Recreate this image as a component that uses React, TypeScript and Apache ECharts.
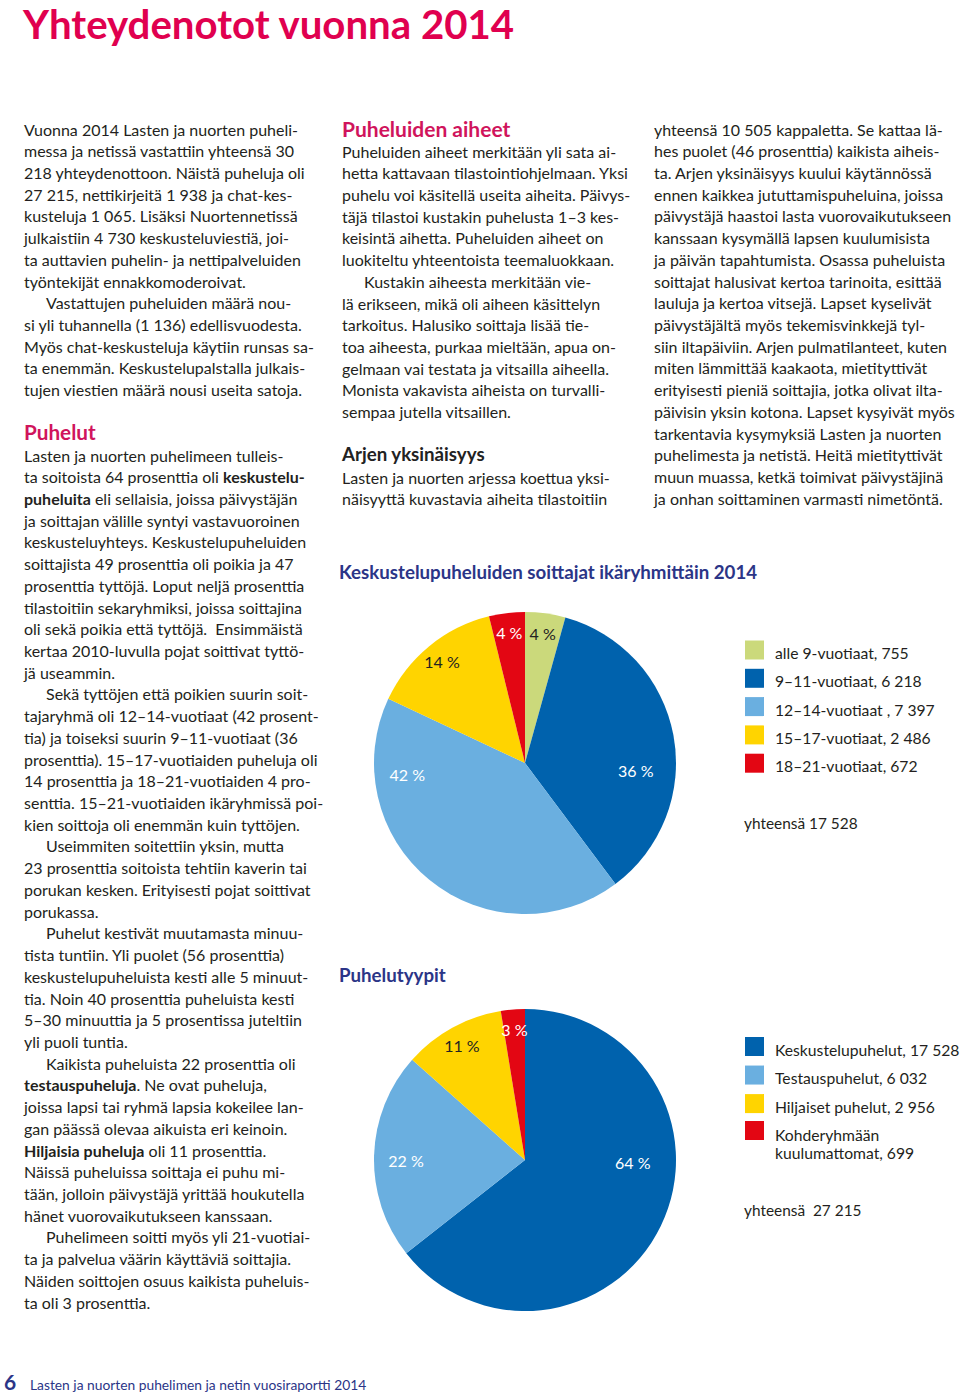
import React, { useEffect, useRef } from 'react';
import * as echarts from 'echarts';

// ---------- chart data ----------
const ageCategories = ['alle 9-vuotiaat', '9–11-vuotiaat', '12–14-vuotiaat ', '15–17-vuotiaat', '18–21-vuotiaat'];
const ageValues = [755, 6218, 7397, 2486, 672];
const ageTotal = 17528;

const typeCategories = ['Keskustelupuhelut', 'Testauspuhelut', 'Hiljaiset puhelut', 'Kohderyhmään\nkuulumattomat'];
const typeValues = [17528, 6032, 2956, 699];
const typeTotal = 27215;

// ---------- styling ----------
const ageColors = ['#cbd97b', '#0062ad', '#6aafe0', '#ffd400', '#e30613'];
const ageLabelColors = ['#222', '#fff', '#fff', '#222', '#fff'];
const ageLabelShift = [[0, 0], [-18, 32], [-35, -90], [0, 0], [0, 0]];
const typeColors = ['#0062ad', '#6aafe0', '#ffd400', '#e30613'];
const typeLabelColors = ['#fff', '#fff', '#222', '#fff'];
const typeLabelShift = [[-10, -55], [12, 5], [0, 0], [0, 0]];

const FONT = "Lato, 'Noto Sans', sans-serif";
const BODY = '#231f20';
const PINK = '#e0004f';
const HEAD = '#d0145c';
const NAVY = '#2b3587';
const BODY_SIZE = 16;
const LH = 21.72;

// ---------- page text ----------
const introLines = [
  'Vuonna 2014 Lasten ja nuorten puheli-',
  'messa ja netissä vastattiin yhteensä 30',
  '218 yhteydenottoon. Näistä puheluja oli',
  '27 215, nettikirjeitä 1 938 ja chat-kes-',
  'kusteluja 1 065. Lisäksi Nuortennetissä',
  'julkaistiin 4 730 keskusteluviestiä, joi-',
  'ta auttavien puhelin- ja nettipalveluiden',
  'työntekijät ennakkomoderoivat.',
  '\tVastattujen puheluiden määrä nou-',
  'si yli tuhannella (1 136) edellisvuodesta.',
  'Myös chat-keskusteluja käytiin runsas sa-',
  'ta enemmän. Keskustelupalstalla julkais-',
  'tujen viestien määrä nousi useita satoja.',
];
const puhelutLines = [
  'Lasten ja nuorten puhelimeen tulleis-',
  'ta soitoista 64 prosenttia oli {b|keskustelu-}',
  '{b|puheluita} eli sellaisia, joissa päivystäjän',
  'ja soittajan välille syntyi vastavuoroinen',
  'keskusteluyhteys. Keskustelupuheluiden',
  'soittajista 49 prosenttia oli poikia ja 47',
  'prosenttia tyttöjä. Loput neljä prosenttia',
  'tilastoitiin sekaryhmiksi, joissa soittajina',
  'oli sekä poikia että tyttöjä.  Ensimmäistä',
  'kertaa 2010-luvulla pojat soittivat tyttö-',
  'jä useammin.',
  '\tSekä tyttöjen että poikien suurin soit-',
  'tajaryhmä oli 12–14-vuotiaat (42 prosent-',
  'tia) ja toiseksi suurin 9–11-vuotiaat (36',
  'prosenttia). 15–17-vuotiaiden puheluja oli',
  '14 prosenttia ja 18–21-vuotiaiden 4 pro-',
  'senttia. 15–21-vuotiaiden ikäryhmissä poi-',
  'kien soittoja oli enemmän kuin tyttöjen.',
  '\tUseimmiten soitettiin yksin, mutta',
  '23 prosenttia soitoista tehtiin kaverin tai',
  'porukan kesken. Erityisesti pojat soittivat',
  'porukassa.',
  '\tPuhelut kestivät muutamasta minuu-',
  'tista tuntiin. Yli puolet (56 prosenttia)',
  'keskustelupuheluista kesti alle 5 minuut-',
  'tia. Noin 40 prosenttia puheluista kesti',
  '5–30 minuuttia ja 5 prosentissa juteltiin',
  'yli puoli tuntia.',
  '\tKaikista puheluista 22 prosenttia oli',
  '{b|testauspuheluja}. Ne ovat puheluja,',
  'joissa lapsi tai ryhmä lapsia kokeilee lan-',
  'gan päässä olevaa aikuista eri keinoin.',
  '{b|Hiljaisia puheluja} oli 11 prosenttia.',
  'Näissä puheluissa soittaja ei puhu mi-',
  'tään, jolloin päivystäjä yrittää houkutella',
  'hänet vuorovaikutukseen kanssaan.',
  '\tPuhelimeen soitti myös yli 21-vuotiai-',
  'ta ja palvelua väärin käyttäviä soittajia.',
  'Näiden soittojen osuus kaikista puheluis-',
  'ta oli 3 prosenttia.',
];
const aiheetLines = [
  'Puheluiden aiheet merkitään yli sata ai-',
  'hetta kattavaan tilastointiohjelmaan. Yksi',
  'puhelu voi käsitellä useita aiheita. Päivys-',
  'täjä tilastoi kustakin puhelusta 1–3 kes-',
  'keisintä aihetta. Puheluiden aiheet on',
  'luokiteltu yhteentoista teemaluokkaan.',
  '\tKustakin aiheesta merkitään vie-',
  'lä erikseen, mikä oli aiheen käsittelyn',
  'tarkoitus. Halusiko soittaja lisää tie-',
  'toa aiheesta, purkaa mieltään, apua on-',
  'gelmaan vai testata ja vitsailla aiheella.',
  'Monista vakavista aiheista on turvalli-',
  'sempaa jutella vitsaillen.',
];
const arkiLines = [
  'Lasten ja nuorten arjessa koettua yksi-',
  'näisyyttä kuvastavia aiheita tilastoitiin',
];
const rightLines = [
  'yhteensä 10 505 kappaletta. Se kattaa lä-',
  'hes puolet (46 prosenttia) kaikista aiheis-',
  'ta. Arjen yksinäisyys kuului käytännössä',
  'ennen kaikkea jututtamispuheluina, joissa',
  'päivystäjä haastoi lasta vuorovaikutukseen',
  'kanssaan kysymällä lapsen kuulumisista',
  'ja päivän tapahtumista. Osassa puheluista',
  'soittajat halusivat kertoa tarinoita, esittää',
  'lauluja ja kertoa vitsejä. Lapset kyselivät',
  'päivystäjältä myös tekemisvinkkejä tyl-',
  'siin iltapäiviin. Arjen pulmatilanteet, kuten',
  'miten lämmittää kaakaota, mietityttivät',
  'erityisesti pieniä soittajia, jotka olivat ilta-',
  'päivisin yksin kotona. Lapset kysyivät myös',
  'tarkentavia kysymyksiä Lasten ja nuorten',
  'puhelimesta ja netistä. Heitä mietityttivät',
  'muun muassa, ketkä toimivat päivystäjinä',
  'ja onhan soittaminen varmasti nimetöntä.',
];

const fmt = (v: number) => String(v).replace(/\B(?=(\d{3})+(?!\d))/g, ' ');

function textLines(lines: string[], x: number, y0: number): any[] {
  return lines.map((raw, i) => {
    const indent = raw.startsWith('\t');
    const text = indent ? raw.slice(1) : raw;
    return {
      type: 'text',
      silent: true,
      x: x + (indent ? 22 : 0),
      y: y0 + i * LH,
      style: {
        text,
        fill: BODY,
        fontSize: BODY_SIZE,
        fontFamily: FONT,
        verticalAlign: 'middle',
        rich: {
          b: { fontWeight: 'bold', fontSize: BODY_SIZE, fontFamily: FONT, fill: BODY },
        },
      },
    };
  });
}

function label(text: string, x: number, y: number, size: number, color: string, weight = 'normal'): any {
  return {
    type: 'text',
    silent: true,
    x,
    y,
    style: {
      text,
      fill: color,
      fontSize: size,
      fontFamily: FONT,
      fontWeight: weight,
      lineHeight: Math.round(size * 1.05),
      verticalAlign: 'middle',
    },
  };
}

export default function App() {
  const ref = useRef<HTMLDivElement>(null);

  useEffect(() => {
    if (!ref.current) return;
    const chart = echarts.init(ref.current, undefined, { renderer: 'svg' });

    const pieBase = (center: number[], names: string[], values: number[], colors: string[]) => ({
      type: 'pie',
      center,
      radius: 151,
      startAngle: 90,
      clockwise: true,
      silent: true,
      label: { show: false },
      labelLine: { show: false },
      emphasis: { disabled: true },
      data: names.map((n, i) => ({ name: n, value: values[i], itemStyle: { color: colors[i] } })),
    });

    const pieLabels = (center: number[], values: number[], colors: string[], shifts: number[][]) => ({
      type: 'pie',
      center,
      radius: 256,
      startAngle: 90,
      clockwise: true,
      silent: true,
      percentPrecision: 0,
      itemStyle: { color: 'rgba(0,0,0,0)' },
      labelLine: { show: false },
      emphasis: { disabled: true },
      labelLayout: (p: any) => ({ dx: shifts[p.dataIndex][0], dy: shifts[p.dataIndex][1] }),
      data: values.map((v, i) => ({
        name: '',
        value: v,
        label: {
          show: true,
          position: 'inside',
          formatter: '{d} %',
          color: colors[i],
          fontSize: 16,
          fontFamily: FONT,
        },
      })),
    });

    // padding-top pushes the legend text a little below the icon centre, as in the original
    const legendBase = (
      names: string[],
      allNames: string[],
      values: number[],
      top: number,
      gap: number,
      padTop: number
    ) => ({
      orient: 'vertical',
      left: 745,
      top,
      padding: 0,
      itemWidth: 19,
      itemHeight: 19,
      itemGap: gap,
      icon: 'rect',
      selectedMode: false,
      formatter: (name: string) => {
        const full = `${name}, ${fmt(values[allNames.indexOf(name)])}`;
        return full
          .split('\n')
          .map((l) => `{a|${l}}`)
          .join('\n');
      },
      textStyle: {
        fontSize: 15.7,
        fontFamily: FONT,
        color: BODY,
        padding: [padTop, 0, 0, 6],
        rich: {
          a: { lineHeight: 18, fontSize: 15.7, fontFamily: FONT, color: BODY },
        },
      },
      data: names,
    });

    const graphics: any[] = [
      label('Yhteydenotot vuonna 2014', 23, 23, 40.2, PINK, 'bold'),
      ...textLines(introLines, 24, 129),
      label('Puhelut', 24, 432, 20.7, HEAD, 'bold'),
      ...textLines(puhelutLines, 24, 455),
      label('Puheluiden aiheet', 342, 128, 21, HEAD, 'bold'),
      ...textLines(aiheetLines, 342, 151),
      label('Arjen yksinäisyys', 342, 454, 18.7, '#222', 'bold'),
      ...textLines(arkiLines, 342, 477),
      ...textLines(rightLines, 654, 129),
      label('Keskustelupuheluiden soittajat ikäryhmittäin 2014', 339, 572, 18.7, NAVY, 'bold'),
      label('Puhelutyypit', 339, 975, 18.7, NAVY, 'bold'),
      label(`yhteensä ${fmt(ageTotal)}`, 744, 823, 15.4, BODY),
      label(`yhteensä  ${fmt(typeTotal)}`, 744, 1210, 15.4, BODY),
      label('6', 4, 1381, 21, NAVY, 'bold'),
      label('Lasten ja nuorten puhelimen ja netin vuosiraportti 2014', 30, 1384, 13.8, NAVY),
    ];

    chart.setOption({
      animation: false,
      backgroundColor: '#ffffff',
      legend: [
        legendBase(ageCategories, ageCategories, ageValues, 640.5, 7.8, 6),
        legendBase(typeCategories.slice(0, 3), typeCategories, typeValues, 1037, 8.05, 6),
        legendBase(typeCategories.slice(3), typeCategories, typeValues, 1121, 0, 27),
      ],
      series: [
        pieBase([525, 763], ageCategories, ageValues, ageColors),
        pieLabels([525, 763], ageValues, ageLabelColors, ageLabelShift),
        pieBase([525, 1160], typeCategories, typeValues, typeColors),
        pieLabels([525, 1160], typeValues, typeLabelColors, typeLabelShift),
      ],
      graphic: graphics,
    });

    return () => chart.dispose();
  }, []);

  return (
    <div
      ref={ref}
      style={{ position: 'absolute', left: 0, top: 0, width: 960, height: 1398, background: '#fff' }}
    />
  );
}
